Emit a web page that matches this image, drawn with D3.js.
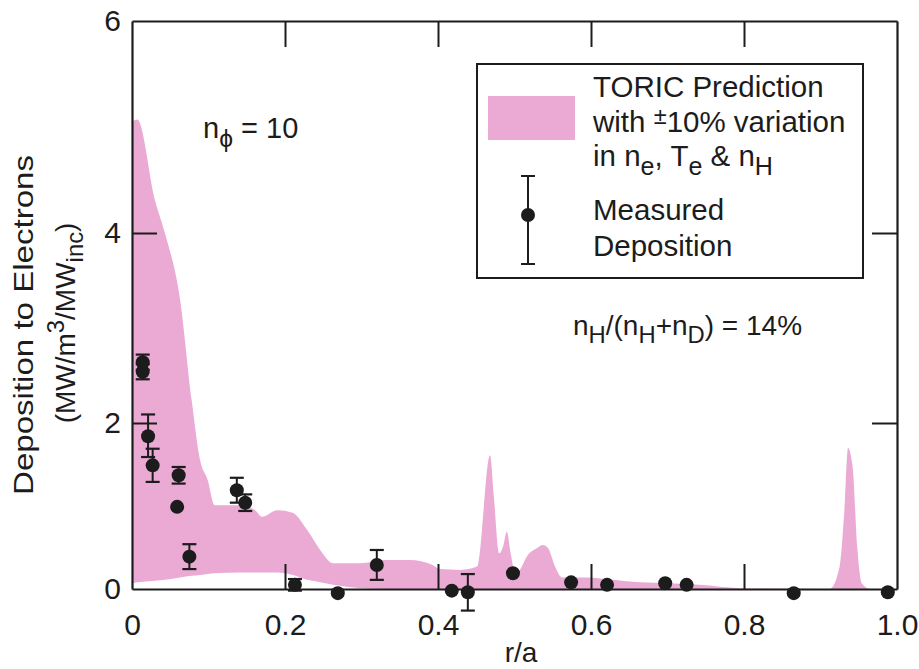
<!DOCTYPE html>
<html>
<head>
<meta charset="utf-8">
<script src="https://cdn.jsdelivr.net/npm/d3@7"></script>
<style>
  html, body { margin: 0; padding: 0; background: #fff; }
  svg { display: block; font-family: "Liberation Sans", Arial, Helvetica, sans-serif; }
</style>
</head>
<body>
<svg id="chart" width="919" height="669"></svg>
<script>
// Axis ticks
const xTickVals = [0, 0.2, 0.4, 0.6, 0.8, 1.0];
const xTickLabels = ["0", "0.2", "0.4", "0.6", "0.8", "1.0"];
const yTickVals = [0, 2, 4, 6];
const yTickLabels = ["0", "2", "4", "6"];

// TORIC prediction band (±10% variation): radius, upper and lower edge
const bandR = [0.000, 0.007, 0.030, 0.043, 0.063, 0.078, 0.089, 0.099, 0.108, 0.141,
               0.161, 0.170, 0.190, 0.210, 0.229, 0.246, 0.263, 0.298, 0.331, 0.363,
               0.393, 0.403, 0.429, 0.451, 0.468, 0.473, 0.480, 0.485, 0.490, 0.495,
               0.501, 0.507, 0.516, 0.529, 0.537, 0.544, 0.553, 0.562, 0.595, 0.629,
               0.664, 0.703, 0.742, 0.795, 0.912, 0.925, 0.931, 0.936, 0.942, 0.948,
               0.954, 0.965, 1.000];
const bandUpper = [5.05, 5.07, 4.31, 4.00, 3.29, 2.24, 1.55, 1.31, 1.01, 1.01,
                   0.95, 0.87, 0.95, 0.92, 0.71, 0.47, 0.31, 0.31, 0.35, 0.35,
                   0.29, 0.24, 0.23, 0.27, 1.61, 1.11, 0.43, 0.51, 0.69, 0.43,
                   0.19, 0.23, 0.39, 0.49, 0.53, 0.49, 0.27, 0.14, 0.14, 0.11,
                   0.08, 0.07, 0.05, 0.01, 0.00, 0.27, 0.92, 1.70, 1.47, 0.51,
                   0.07, 0.00, 0.00];
const bandLower = [0.07, 0.08, 0.10, 0.11, 0.14, 0.16, 0.17, 0.18, 0.19, 0.20,
                   0.20, 0.20, 0.20, 0.17, 0.11, 0.08, 0.05, 0.01, 0.00, 0.00,
                   0.00, 0.00, 0.00, 0.00, 0.00, 0.00, 0.00, 0.00, 0.00, 0.00,
                   0.00, 0.00, 0.00, 0.00, 0.00, 0.00, 0.00, 0.00, 0.00, 0.00,
                   0.00, 0.00, 0.00, 0.00, 0.00, 0.00, 0.00, 0.00, 0.00, 0.00,
                   0.00, 0.00, 0.00];

// Measured deposition: radius, value, half error bar (null = no bar)
const measR   = [0.014, 0.014, 0.021, 0.027, 0.061, 0.059, 0.075, 0.137, 0.148, 0.213,
                 0.269, 0.320, 0.418, 0.439, 0.498, 0.574, 0.621, 0.697, 0.725, 0.865, 0.988];
const measVal = [2.64, 2.54, 1.84, 1.49, 1.37, 0.99, 0.39, 1.19, 1.04, 0.05,
                 -0.05, 0.29, -0.02, -0.04, 0.19, 0.08, 0.05, 0.07, 0.05, -0.05, -0.04];
const measErr = [0.08, 0.08, 0.25, 0.20, 0.10, null, 0.15, 0.15, 0.10, 0.07,
                 null, 0.18, null, 0.22, null, null, null, null, null, null, null];

const ink = "#1c1c1c";
const pink = "#eaaad3";
const fontSize = 30;

const svg = d3.select("#chart");

const x = d3.scaleLinear().domain([0, 1]).range([132, 897]);
const y = d3.scaleLinear().domain([0, 2, 4, 6]).range([589, 423, 233, 21]);

// Prediction band
const band = bandR.map((r, i) => ({ r, hi: bandUpper[i], lo: bandLower[i] }));
svg.append("path")
  .datum(band)
  .attr("fill", pink)
  .attr("d", d3.area()
    .x(d => x(d.r))
    .y0(d => y(d.lo))
    .y1(d => y(d.hi))
    .curve(d3.curveMonotoneX));

// Frame and inward ticks
function styleAxis(g) {
  g.selectAll("path.domain").attr("stroke", ink).attr("stroke-width", 2.2);
  g.selectAll(".tick line").attr("stroke", ink).attr("stroke-width", 2);
  g.selectAll(".tick text").attr("fill", ink).attr("font-size", fontSize)
    .attr("font-family", "Liberation Sans, Arial, sans-serif");
}
const innerX = xTickVals.slice(1, -1);
const innerY = yTickVals.slice(1, -1);

svg.append("g").attr("transform", `translate(0,${y(0)})`)
  .call(d3.axisBottom(x).tickValues(xTickVals).tickSizeInner(-25).tickSizeOuter(0)
    .tickPadding(25).tickFormat((d, i) => xTickLabels[i]))
  .call(g => g.selectAll(".tick line").filter(d => d === 0 || d === 1).remove())
  .call(styleAxis);

svg.append("g").attr("transform", `translate(0,${y(6)})`)
  .call(d3.axisTop(x).tickValues(innerX).tickSizeInner(-26).tickSizeOuter(0).tickFormat(""))
  .call(styleAxis);

svg.append("g").attr("transform", `translate(${x(0)},0)`)
  .call(d3.axisLeft(y).tickValues(yTickVals).tickSizeInner(-25).tickSizeOuter(0)
    .tickPadding(11).tickFormat((d, i) => yTickLabels[i]))
  .call(g => g.selectAll(".tick line").filter(d => d === 0 || d === 6).remove())
  .call(styleAxis);

svg.append("g").attr("transform", `translate(${x(1)},0)`)
  .call(d3.axisRight(y).tickValues(innerY).tickSizeInner(-25).tickSizeOuter(0).tickFormat(""))
  .call(styleAxis);

// Measured points with error bars
const meas = measR.map((r, i) => ({ r, v: measVal[i], e: measErr[i] }));
const pts = svg.append("g");
const withErr = meas.filter(d => d.e !== null);
pts.selectAll("line.err").data(withErr).join("line")
  .attr("x1", d => x(d.r)).attr("x2", d => x(d.r))
  .attr("y1", d => y(d.v - d.e)).attr("y2", d => y(d.v + d.e))
  .attr("stroke", ink).attr("stroke-width", 2);
[-1, 1].forEach(s => {
  pts.selectAll(null).data(withErr).join("line")
    .attr("x1", d => x(d.r) - 7).attr("x2", d => x(d.r) + 7)
    .attr("y1", d => y(d.v + s * d.e)).attr("y2", d => y(d.v + s * d.e))
    .attr("stroke", ink).attr("stroke-width", 2.2);
});
pts.selectAll("circle").data(meas).join("circle")
  .attr("cx", d => x(d.r)).attr("cy", d => y(d.v)).attr("r", 7)
  .attr("fill", ink);

// Rich text helper: parts are [text, kind] with kind "sub", "sup", "pm" or null
function rich(sel, parts, size) {
  parts.forEach(([t, kind]) => {
    const ts = sel.append("tspan").text(t);
    if (kind) {
      const small = kind === "pm" ? size * 0.8 : size * 0.85;
      const shift = kind === "sub" ? -size * 0.3 : size * (kind === "pm" ? 0.28 : 0.38);
      ts.attr("font-size", small).attr("baseline-shift", shift);
    }
  });
  return sel;
}

// Axis titles
svg.append("text")
  .attr("x", 521).attr("y", 662).attr("text-anchor", "middle")
  .attr("font-size", 28).attr("fill", ink).text("r/a");

svg.append("text")
  .attr("transform", "translate(33,325) rotate(-90)")
  .attr("text-anchor", "middle").attr("font-size", 28).attr("fill", ink)
  .attr("textLength", 340).attr("lengthAdjust", "spacingAndGlyphs")
  .text("Deposition to Electrons");

rich(svg.append("text")
  .attr("transform", "translate(75,323) rotate(-90)")
  .attr("text-anchor", "middle").attr("font-size", 28).attr("fill", ink),
  [["(MW/m", null], ["3", "sup"], ["/MW", null], ["inc", "sub"], [")", null]], 28);

// Annotations
rich(svg.append("text").attr("x", 203).attr("y", 138).attr("font-size", 29).attr("fill", ink),
  [["n", null], ["\u03D5", "sub"], [" = 10", null]], 29);

rich(svg.append("text").attr("x", 573).attr("y", 335).attr("font-size", 28).attr("fill", ink),
  [["n", null], ["H", "sub"], ["/(n", null], ["H", "sub"], ["+n", null], ["D", "sub"], [") = 14%", null]], 28);

// Legend
const lg = svg.append("g");
lg.append("rect").attr("x", 477).attr("y", 64).attr("width", 386).attr("height", 214)
  .attr("fill", "#fff").attr("stroke", ink).attr("stroke-width", 2);
lg.append("rect").attr("x", 488).attr("y", 96).attr("width", 87).attr("height", 44)
  .attr("fill", pink);
const ls = 29.5;
lg.append("text").attr("x", 593).attr("y", 97).attr("font-size", ls).attr("fill", ink)
  .text("TORIC Prediction");
rich(lg.append("text").attr("x", 593).attr("y", 132).attr("font-size", ls).attr("fill", ink),
  [["with ", null], ["\u00B1", "pm"], ["10% variation", null]], ls);
rich(lg.append("text").attr("x", 593).attr("y", 166).attr("font-size", ls).attr("fill", ink),
  [["in n", null], ["e", "sub"], [", T", null], ["e", "sub"], [" & n", null], ["H", "sub"]], ls);
lg.append("text").attr("x", 593).attr("y", 220).attr("font-size", ls).attr("fill", ink)
  .text("Measured");
lg.append("text").attr("x", 593).attr("y", 256).attr("font-size", ls).attr("fill", ink)
  .text("Deposition");
lg.append("line").attr("x1", 528).attr("x2", 528).attr("y1", 176).attr("y2", 264)
  .attr("stroke", ink).attr("stroke-width", 2);
[176, 264].forEach(cy => lg.append("line").attr("x1", 521).attr("x2", 535)
  .attr("y1", cy).attr("y2", cy).attr("stroke", ink).attr("stroke-width", 2));
lg.append("circle").attr("cx", 528).attr("cy", 215).attr("r", 7).attr("fill", ink);
</script>
</body>
</html>
